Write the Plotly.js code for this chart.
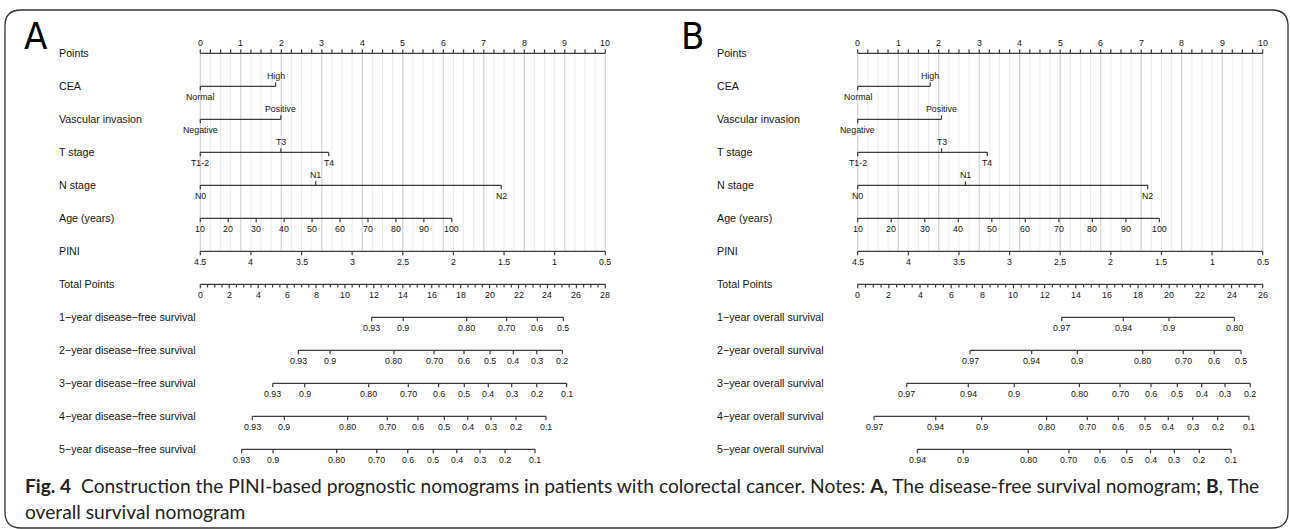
<!DOCTYPE html>
<html><head><meta charset="utf-8">
<script src="https://cdn.plot.ly/plotly-3.0.1.min.js"></script>
<style>html,body{margin:0;padding:0;background:#fff;}#chart{width:1290px;height:529px;}</style>
</head><body><div id="chart"></div>
<script>
// ---------------- data ----------------
const rowLabelsA = ["Points","CEA","Vascular invasion","T stage","N stage","Age (years)","PINI","Total Points",
  "1\u2212year disease\u2212free survival","2\u2212year disease\u2212free survival","3\u2212year disease\u2212free survival",
  "4\u2212year disease\u2212free survival","5\u2212year disease\u2212free survival"];
const rowLabelsB = ["Points","CEA","Vascular invasion","T stage","N stage","Age (years)","PINI","Total Points",
  "1\u2212year overall survival","2\u2212year overall survival","3\u2212year overall survival",
  "4\u2212year overall survival","5\u2212year overall survival"];

const ceaLevels = ["Normal","High"];
const ceaPointsA = [0, 1.86];
const ceaPointsB = [0, 1.79];
const viLevels = ["Negative","Positive"];
const viPointsA = [0, 1.99];
const viPointsB = [0, 2.07];
const tLevels = ["T1-2","T3","T4"];
const tPointsA = [0, 1.99, 3.17];
const tPointsB = [0, 2.07, 3.20];
const nLevels = ["N0","N1","N2"];
const nPointsA = [0, 2.85, 7.43];
const nPointsB = [0, 2.66, 7.16];

const ageTicks = [10,20,30,40,50,60,70,80,90,100];
const agePointsAt100A = 6.21;
const agePointsAt100B = 7.45;
const piniTicks = [4.5,4,3.5,3,2.5,2,1.5,1,0.5];
const pointsTicks = [0,1,2,3,4,5,6,7,8,9,10];
const totalMaxA = 28;
const totalMaxB = 26;

const survLabelsA = [
  ["0.93","0.9","0.80","0.70","0.6","0.5"],
  ["0.93","0.9","0.80","0.70","0.6","0.5","0.4","0.3","0.2"],
  ["0.93","0.9","0.80","0.70","0.6","0.5","0.4","0.3","0.2","0.1"],
  ["0.93","0.9","0.80","0.70","0.6","0.5","0.4","0.3","0.2","0.1"],
  ["0.93","0.9","0.80","0.70","0.6","0.5","0.4","0.3","0.2","0.1"]
];
const survTotalA = [
  [11.85,14.03,18.42,21.18,23.30,25.10],
  [6.78,8.97,13.39,16.16,18.23,20.03,21.64,23.26,25.03],
  [5.01,7.22,11.64,14.38,16.48,18.25,19.91,21.53,23.26,25.33],
  [3.60,5.81,10.19,12.93,15.05,16.87,18.49,20.10,21.83,23.90],
  [2.86,5.03,9.43,12.20,14.34,16.11,17.73,19.34,21.07,23.14]
];
const survLabelsB = [
  ["0.97","0.94","0.9","0.80"],
  ["0.97","0.94","0.9","0.80","0.70","0.6","0.5"],
  ["0.97","0.94","0.9","0.80","0.70","0.6","0.5","0.4","0.3","0.2"],
  ["0.97","0.94","0.9","0.80","0.70","0.6","0.5","0.4","0.3","0.2","0.1"],
  ["0.94","0.9","0.80","0.70","0.6","0.5","0.4","0.3","0.2","0.1"]
];
const survTotalB = [
  [13.10,17.05,19.98,24.18],
  [7.21,11.17,14.10,18.30,20.90,22.89,24.61],
  [3.15,7.10,10.05,14.23,16.84,18.83,20.52,22.08,23.58,25.20],
  [1.05,5.01,7.96,12.13,14.74,16.73,18.44,19.94,21.51,23.11,25.12],
  [3.83,6.78,10.95,13.56,15.55,17.27,18.80,20.33,21.93,23.97]
];

// ---------------- layout constants ----------------
const W = 1290, H = 529;
const ROW_PX = 33, ROW0_PX = 53.3, PT_PX = 40.5;
const A_X0 = 200.3, B_X0 = 857.7, LABEL_GAP_PX = 143;
const TICK = 4 / ROW_PX;
const LAB_SHIFT = 10.6;
const LINE_COLOR = "#3c3c3c";
const TXT = "#141414";
const FONT = "Liberation Sans, Arial, sans-serif";

function buildPanel(spec, xref) {
  const lx = [], ly = [];
  const gmx = [], gmy = [], gnx = [], gny = [];
  const ann = [];
  const seg = (x1, y1, x2, y2) => { lx.push(x1, x2, null); ly.push(y1, y2, null); };
  const lab = (x, row, text, above) => ann.push({x: x, y: row, xref: xref, yref: "y", text: text, showarrow: false,
    yshift: above ? LAB_SHIFT : -LAB_SHIFT, xanchor: "center", yanchor: "middle",
    font: {family: FONT, size: 8.8, color: TXT}});
  // grid
  for (let i = 0; i <= 40; i++) {
    const p = i * 0.25;
    if (i % 4 === 0) { gmx.push(p, p, null); gmy.push(0, 6, null); }
    else { gnx.push(p, p, null); gny.push(0, 6, null); }
  }
  // row labels
  spec.labels.forEach((t, r) => ann.push({x: -LABEL_GAP_PX / PT_PX, y: r, xref: xref, yref: "y", text: t,
    showarrow: false, xanchor: "left", yanchor: "middle", font: {family: FONT, size: 10.7, color: TXT}}));
  // points axis
  seg(0, 0, 10, 0);
  for (let i = 0; i <= 40; i++) seg(i * 0.25, 0, i * 0.25, -TICK);
  pointsTicks.forEach(p => lab(p, 0, String(p), true));
  // categorical rows
  spec.cats.forEach((c, k) => {
    const row = k + 1;
    seg(Math.min(...c.points), row, Math.max(...c.points), row);
    c.points.forEach((p, i) => {
      const above = i % 2 === 1;
      seg(p, row, p, above ? row - TICK : row + TICK);
      lab(p, row, c.levels[i], above);
    });
  });
  // age
  const ageP = a => (a - ageTicks[0]) / (ageTicks[ageTicks.length - 1] - ageTicks[0]) * spec.ageMax;
  seg(0, 5, ageP(100), 5);
  ageTicks.forEach(a => { seg(ageP(a), 5, ageP(a), 5 + TICK); lab(ageP(a), 5, String(a), false); });
  // PINI
  const piniP = v => (piniTicks[0] - v) / (piniTicks[0] - piniTicks[piniTicks.length - 1]) * 10;
  seg(0, 6, 10, 6);
  piniTicks.forEach(v => { seg(piniP(v), 6, piniP(v), 6 + TICK); lab(piniP(v), 6, String(v), false); });
  // total points
  const tp = v => v * 10 / spec.totalMax;
  seg(0, 7, 10, 7);
  for (let v = 0; v <= spec.totalMax + 1e-9; v += 0.5) {
    seg(tp(v), 7, tp(v), 7 + TICK * (Math.abs(v % 2) < 1e-9 ? 1 : 0.8));
    if (Math.abs(v % 2) < 1e-9) lab(tp(v), 7, String(v), false);
  }
  // survival rows
  spec.survTotals.forEach((vals, k) => {
    const row = 8 + k;
    seg(tp(Math.min(...vals)), row, tp(Math.max(...vals)), row);
    vals.forEach((v, i) => { seg(tp(v), row, tp(v), row + TICK); lab(tp(v), row, spec.survLabels[k][i], false); });
  });
  const xa = xref;
  const traces = [
    {x: gnx, y: gny, xaxis: xa, yaxis: "y", mode: "lines", line: {color: "#ececec", width: 1}, hoverinfo: "skip", showlegend: false},
    {x: gmx, y: gmy, xaxis: xa, yaxis: "y", mode: "lines", line: {color: "#d2d2d2", width: 1.2}, hoverinfo: "skip", showlegend: false},
    {x: lx, y: ly, xaxis: xa, yaxis: "y", mode: "lines", line: {color: LINE_COLOR, width: 1.2}, hoverinfo: "skip", showlegend: false}
  ];
  return {traces, ann};
}

const specA = {labels: rowLabelsA,
  cats: [{levels: ceaLevels, points: ceaPointsA}, {levels: viLevels, points: viPointsA},
         {levels: tLevels, points: tPointsA}, {levels: nLevels, points: nPointsA}],
  ageMax: agePointsAt100A, totalMax: totalMaxA, survLabels: survLabelsA, survTotals: survTotalA};
const specB = {labels: rowLabelsB,
  cats: [{levels: ceaLevels, points: ceaPointsB}, {levels: viLevels, points: viPointsB},
         {levels: tLevels, points: tPointsB}, {levels: nLevels, points: nPointsB}],
  ageMax: agePointsAt100B, totalMax: totalMaxB, survLabels: survLabelsB, survTotals: survTotalB};

const pA = buildPanel(specA, "x");
const pB = buildPanel(specB, "x2");

const r = 16;
const fx = v => v / W, fy = v => 1 - v / H;
const L = 5, R = 1288, T = 10, B = 528;
const framePath = `M ${fx(L)} ${fy(T + r)} Q ${fx(L)} ${fy(T)} ${fx(L + r)} ${fy(T)} L ${fx(R - r)} ${fy(T)} Q ${fx(R)} ${fy(T)} ${fx(R)} ${fy(T + r)} ` +
  `L ${fx(R)} ${fy(B - r)} Q ${fx(R)} ${fy(B)} ${fx(R - r)} ${fy(B)} L ${fx(L + r)} ${fy(B)} Q ${fx(L)} ${fy(B)} ${fx(L)} ${fy(B - r)} Z`;

const capFont = {family: "Lato, Open Sans, sans-serif", size: 19.2, color: "#222"};
const letterFont = {family: "Liberation Sans Narrow, DejaVu Sans Condensed, Liberation Sans, sans-serif", size: 38, color: "#000"};
const extra = [
  {xref: "paper", yref: "paper", x: fx(35.5), y: fy(36.5), text: "A", showarrow: false, xanchor: "center", yanchor: "middle", font: letterFont},
  {xref: "paper", yref: "paper", x: fx(692.5), y: fy(36.5), text: "B", showarrow: false, xanchor: "center", yanchor: "middle", font: letterFont},
  {xref: "paper", yref: "paper", x: fx(23), y: fy(485), xanchor: "left", yanchor: "middle", showarrow: false, font: capFont,
   text: "<b>Fig. 4</b>  Construction the PINI-based prognostic nomograms in patients with colorectal cancer. Notes: <b>A</b>, The disease-free survival nomogram; <b>B</b>, The"},
  {xref: "paper", yref: "paper", x: fx(23), y: fy(511), xanchor: "left", yanchor: "middle", showarrow: false, font: capFont,
   text: "overall survival nomogram"}
];

const layout = {
  width: W, height: H, margin: {l: 0, r: 0, t: 0, b: 0},
  paper_bgcolor: "#fff", plot_bgcolor: "#fff", showlegend: false,
  xaxis: {domain: [0, 0.5], range: [-A_X0 / PT_PX, (W / 2 - A_X0) / PT_PX], visible: false, fixedrange: true},
  xaxis2: {domain: [0.5, 1], range: [(W / 2 - B_X0) / PT_PX, (W - B_X0) / PT_PX], visible: false, fixedrange: true},
  yaxis: {range: [(H - ROW0_PX) / ROW_PX, -ROW0_PX / ROW_PX], visible: false, fixedrange: true},
  annotations: pA.ann.concat(pB.ann, extra),
  shapes: [{type: "path", xref: "paper", yref: "paper", path: framePath, line: {color: "#333", width: 1.3}}]
};

Plotly.newPlot("chart", pA.traces.concat(pB.traces), layout, {staticPlot: true, displayModeBar: false});
</script></body></html>
